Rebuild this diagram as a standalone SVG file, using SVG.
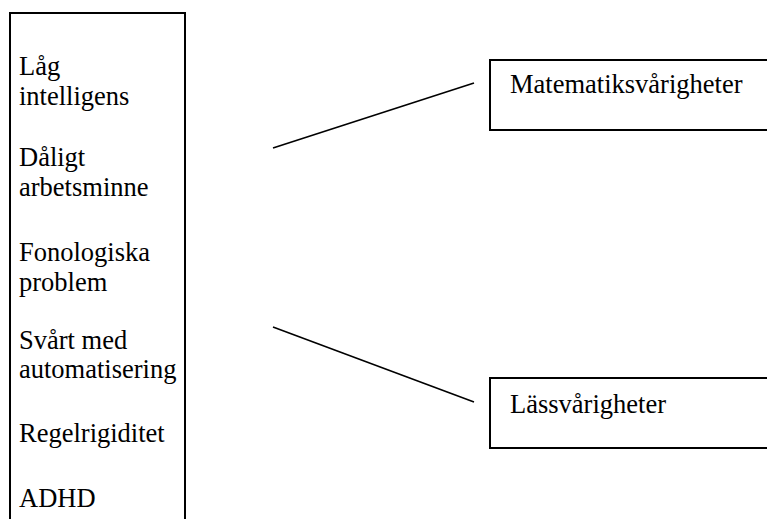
<svg xmlns="http://www.w3.org/2000/svg" width="767" height="519" viewBox="0 0 767 519">
<style>
.box{fill:#fff;stroke:#000;stroke-width:2}
.t{font-family:'Liberation Serif','Times New Roman',serif;font-size:26.5px;fill:#000}
.ln{stroke:#000;stroke-width:1.6;fill:none}
</style>
<rect width="767" height="519" fill="#fff"/>
<g id="factors">
<rect class="box" x="10" y="13" width="175" height="520"/>
<text class="t" x="19" y="75">Låg</text>
<text class="t" x="19" y="105">intelligens</text>
<text class="t" x="19" y="166">Dåligt</text>
<text class="t" x="19" y="196">arbetsminne</text>
<text class="t" x="19" y="261">Fonologiska</text>
<text class="t" x="19" y="291">problem</text>
<text class="t" x="19" y="349">Svårt med</text>
<text class="t" x="19" y="378">automatisering</text>
<text class="t" x="19" y="442">Regelrigiditet</text>
<text class="t" x="19" y="507">ADHD</text>
</g>
<g id="math">
<rect class="box" x="490" y="60" width="300" height="70"/>
<text class="t" x="510" y="93">Matematiksvårigheter</text>
</g>
<g id="reading">
<rect class="box" x="490" y="378" width="300" height="70"/>
<text class="t" x="510" y="413">Lässvårigheter</text>
</g>
<g id="connectors">
<line class="ln" x1="273" y1="148" x2="474" y2="83"/>
<line class="ln" x1="273" y1="327" x2="474" y2="402"/>
</g>
</svg>
